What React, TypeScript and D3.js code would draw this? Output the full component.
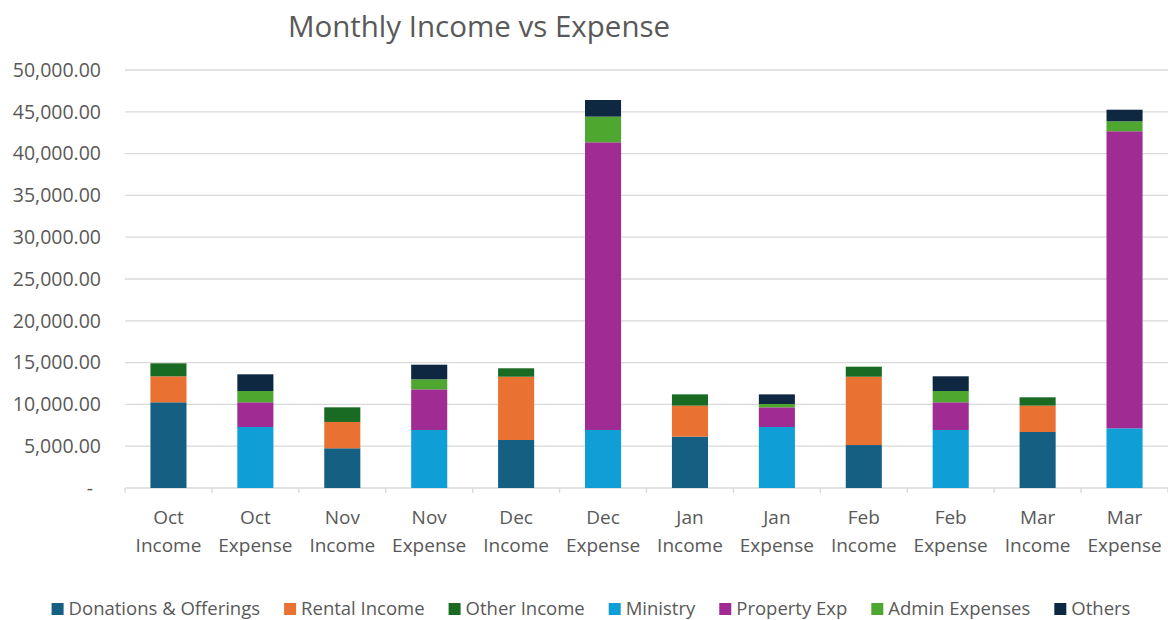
import React from "react";
import * as d3 from "d3";

const months = ["Oct", "Oct", "Nov", "Nov", "Dec", "Dec", "Jan", "Jan", "Feb", "Feb", "Mar", "Mar"];
const kinds = ["Income", "Expense", "Income", "Expense", "Income", "Expense", "Income", "Expense", "Income", "Expense", "Income", "Expense"];
const categories = months.map((m, i) => `${m} ${kinds[i]}`);

const seriesNames = ["Donations & Offerings", "Rental Income", "Other Income", "Ministry", "Property Exp", "Admin Expenses", "Others"];
const seriesColors = ["#156082", "#E97132", "#196B24", "#0F9ED5", "#A02B93", "#4EA72E", "#0E2841"];

const donations = [10250, 0, 4750, 0, 5740, 0, 6140, 0, 5140, 0, 6700, 0];
const rental = [3110, 0, 3150, 0, 7570, 0, 3710, 0, 8170, 0, 3150, 0];
const otherIncome = [1555, 0, 1750, 0, 1010, 0, 1350, 0, 1200, 0, 1000, 0];
const ministry = [0, 7300, 0, 6940, 0, 6940, 0, 7300, 0, 6940, 0, 7140];
const property = [0, 2950, 0, 4860, 0, 34410, 0, 2350, 0, 3310, 0, 35530];
const admin = [0, 1350, 0, 1200, 0, 3070, 0, 400, 0, 1350, 0, 1190];
const others = [0, 2000, 0, 1750, 0, 1990, 0, 1150, 0, 1760, 0, 1390];

const yTicks = [0, 5000, 10000, 15000, 20000, 25000, 30000, 35000, 40000, 45000, 50000];

const W = 1168;
const H = 620;
const FONT = "'Open Sans', sans-serif";
const TXT = "#595959";

function measure(text: string, size: number): number {
  if (typeof document === "undefined") return text.length * size * 0.5;
  const c = document.createElement("canvas");
  const ctx = c.getContext("2d");
  if (!ctx) return text.length * size * 0.5;
  ctx.font = `${size}px 'Open Sans'`;
  return ctx.measureText(text).width;
}

export default function App() {
  const seriesValues = [donations, rental, otherIncome, ministry, property, admin, others];
  const rows = categories.map((c, i) => {
    const r: any = { cat: c };
    seriesNames.forEach((s, k) => (r[s] = seriesValues[k][i]));
    return r;
  });
  const stacked = d3.stack<any>().keys(seriesNames)(rows);

  const left = 125;
  const right = 1168;
  const top = 70;
  const bottom = 488;
  const p = 0.585;
  const x = d3.scaleBand<string>().domain(categories).range([left, right]).paddingInner(p).paddingOuter(p / 2);
  const y = d3.scaleLinear().domain([0, 50000]).range([bottom, top]);
  const step = x.step();
  const fmt = d3.format(",.2f");

  // legend layout
  const legSize = 18.5;
  const sq = 12;
  const gapSq = 5;
  const gapItem = 24;
  const widths = seriesNames.map((s) => measure(s, legSize));
  const total = widths.reduce((a, w) => a + sq + gapSq + w, 0) + gapItem * (seriesNames.length - 1);
  let lx = 591 - total / 2;
  const legendItems = seriesNames.map((s, i) => {
    const item = { name: s, color: seriesColors[i], x: lx };
    lx += sq + gapSq + widths[i] + gapItem;
    return item;
  });

  return (
    <svg width={W} height={H} style={{ position: "absolute", left: 0, top: 0, background: "#fff" }} fontFamily={FONT}>
      <text x={479} y={37} textAnchor="middle" fontSize={29.5} fill={TXT}>
        Monthly Income vs Expense
      </text>
      {yTicks.map((t) => (
        <g key={t}>
          <line x1={left} x2={right} y1={y(t)} y2={y(t)} stroke="#d9d9d9" strokeWidth={1.3} />
          <text x={t === 0 ? 93 : 101} y={y(t)} dy="0.35em" textAnchor="end" fontSize={19.5} fill={TXT}>
            {t === 0 ? "-" : fmt(t)}
          </text>
        </g>
      ))}
      {d3.range(categories.length + 1).map((i) => (
        <line key={i} x1={left + i * step} x2={left + i * step} y1={bottom} y2={bottom + 5} stroke="#d9d9d9" strokeWidth={1.3} />
      ))}
      {stacked.map((layer, k) => (
        <g key={layer.key} fill={seriesColors[k]}>
          {layer.map((d, i) =>
            d[1] - d[0] > 0 ? (
              <rect key={i} x={x(categories[i])} width={x.bandwidth()} y={y(d[1])} height={y(d[0]) - y(d[1])} />
            ) : null
          )}
        </g>
      ))}
      {categories.map((c, i) => (
        <text key={c} textAnchor="middle" fontSize={19} fill={TXT}>
          <tspan x={(x(c) as number) + x.bandwidth() / 2} y={524}>
            {months[i]}
          </tspan>
          <tspan x={(x(c) as number) + x.bandwidth() / 2} y={552}>
            {kinds[i]}
          </tspan>
        </text>
      ))}
      {legendItems.map((it) => (
        <g key={it.name}>
          <rect x={it.x} y={603} width={sq} height={sq} fill={it.color} />
          <text x={it.x + sq + gapSq} y={609} dy="0.35em" fontSize={legSize} fill={TXT}>
            {it.name}
          </text>
        </g>
      ))}
    </svg>
  );
}
